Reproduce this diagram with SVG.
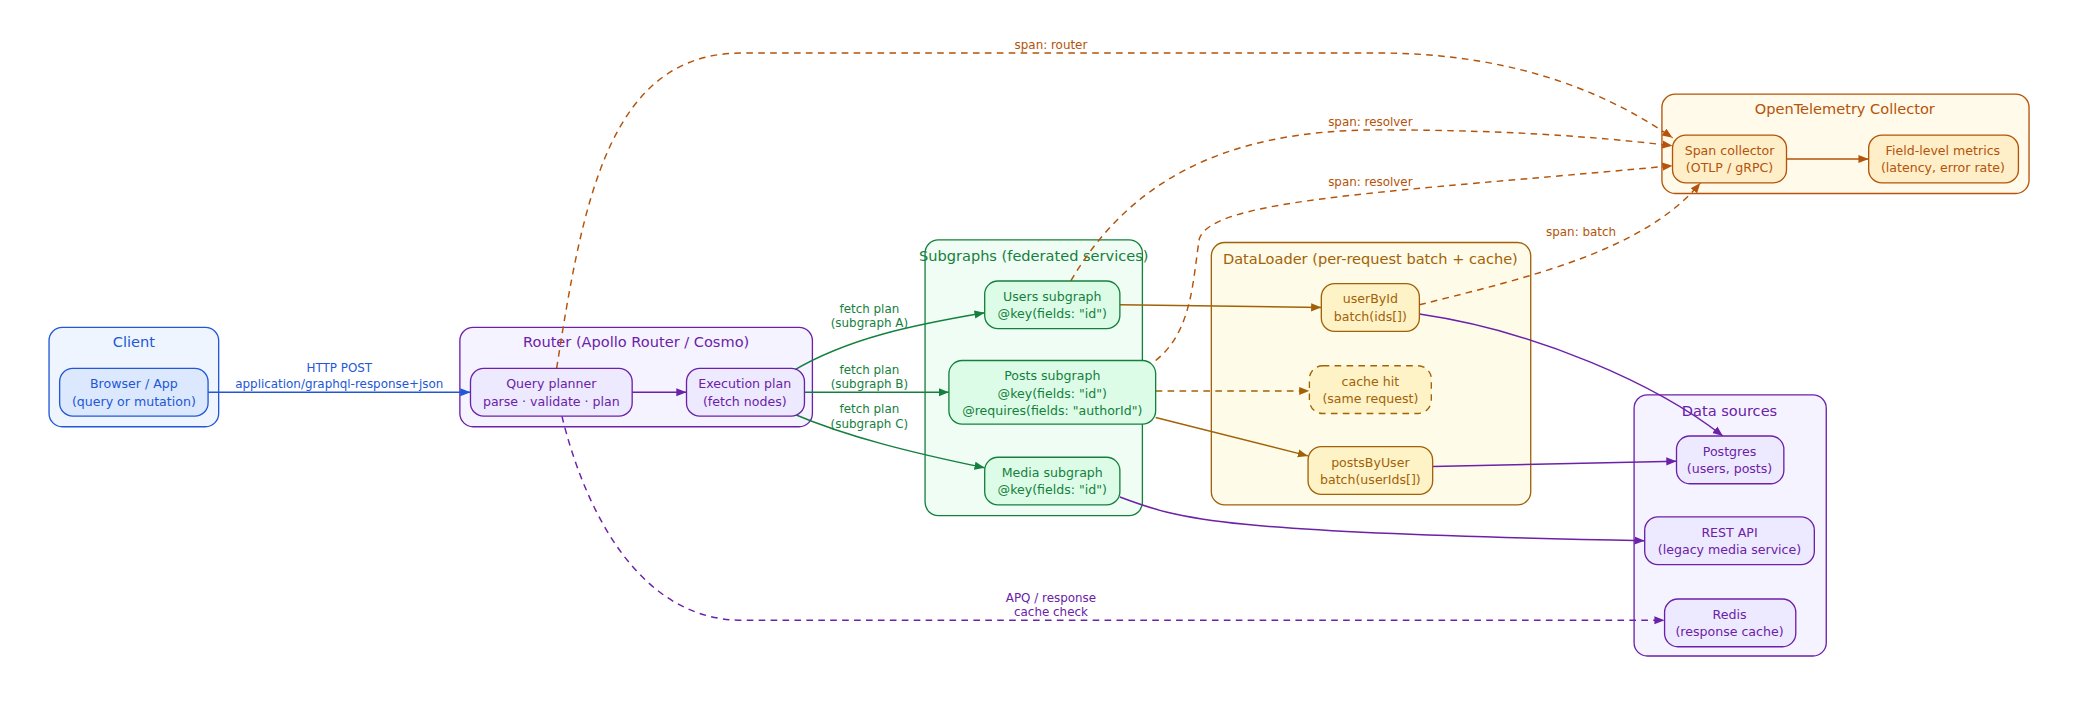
<svg xmlns="http://www.w3.org/2000/svg" width="2078" height="706" viewBox="0 0 2078 706">
<defs>
<style>
text{font-family:"DejaVu Sans","Noto Sans",sans-serif;text-anchor:middle}
.t{font-size:11px}.n{font-size:9.5px}.l{font-size:9px}
.cb{fill:#eef5ff;stroke:#2257d6}.nb{fill:#dbe8fe;stroke:#2257d6}.tb{fill:#2257d6}
.cp{fill:#f5f3ff;stroke:#6b21a8}.np{fill:#ede9fe;stroke:#6b21a8}.tp{fill:#6b21a8}
.cg{fill:#effdf4;stroke:#15803d}.ng{fill:#dcfce7;stroke:#15803d}.tg{fill:#15803d}
.ca{fill:#fffbe9;stroke:#a16207}.na{fill:#fef3c7;stroke:#a16207}.ta{fill:#a16207}
.co{fill:#fffae9;stroke:#b45309}.no{fill:#feefc9;stroke:#b45309}.to{fill:#b45309}
rect{stroke-width:1}
.e{fill:none;stroke-width:1.1}
.d{stroke-dasharray:5 4}
</style>
<marker id="mb" viewBox="0 0 10 10" refX="10" refY="5" markerWidth="7" markerHeight="7" orient="auto"><path d="M0,1L10,5L0,9z" fill="#2257d6"/></marker>
<marker id="mp" viewBox="0 0 10 10" refX="10" refY="5" markerWidth="7" markerHeight="7" orient="auto"><path d="M0,1L10,5L0,9z" fill="#6b21a8"/></marker>
<marker id="mg" viewBox="0 0 10 10" refX="10" refY="5" markerWidth="7" markerHeight="7" orient="auto"><path d="M0,1L10,5L0,9z" fill="#15803d"/></marker>
<marker id="ma" viewBox="0 0 10 10" refX="10" refY="5" markerWidth="7" markerHeight="7" orient="auto"><path d="M0,1L10,5L0,9z" fill="#a16207"/></marker>
<marker id="mo" viewBox="0 0 10 10" refX="10" refY="5" markerWidth="7" markerHeight="7" orient="auto"><path d="M0,1L10,5L0,9z" fill="#b45309"/></marker>
</defs>
<rect width="2078" height="706" fill="#fff"/>
<g transform="scale(1.3253)">
<g id="clusters">
<g id="client"><rect class="cb" x="37" y="247" width="128" height="75" rx="10"/><text class="t tb" x="101" y="262">Client</text></g>
<g id="router"><rect class="cp" x="347" y="247" width="266" height="75" rx="10"/><text class="t tp" x="480" y="262">Router (Apollo Router / Cosmo)</text></g>
<g id="subgraphs"><rect class="cg" x="698" y="181" width="164" height="208" rx="10"/><text class="t tg" x="780" y="197">Subgraphs (federated services)</text></g>
<g id="dataloader"><rect class="ca" x="914" y="183" width="241" height="198" rx="10"/><text class="t ta" x="1034" y="199">DataLoader (per-request batch + cache)</text></g>
<g id="otel"><rect class="co" x="1254" y="71" width="277" height="75" rx="10"/><text class="t to" x="1392" y="86">OpenTelemetry Collector</text></g>
<g id="datasources"><rect class="cp" x="1233" y="298" width="145" height="197" rx="10"/><text class="t tp" x="1305" y="314">Data sources</text></g>
</g>
<g id="connectors">
<path class="e" stroke="#2257d6" marker-end="url(#mb)" d="M157,296H355"/>
<text class="l tb" x="256" y="281">HTTP POST</text><text class="l tb" x="256" y="293">application/graphql-response+json</text>
<path class="e" stroke="#6b21a8" marker-end="url(#mp)" d="M477,296H518"/>
<path class="e" stroke="#15803d" marker-end="url(#mg)" d="M598,280C640,255 690,245 743,236"/>
<text class="l tg" x="656" y="236">fetch plan</text><text class="l tg" x="656" y="247">(subgraph A)</text>
<path class="e" stroke="#15803d" marker-end="url(#mg)" d="M607,296H716"/>
<text class="l tg" x="656" y="282">fetch plan</text><text class="l tg" x="656" y="293">(subgraph B)</text>
<path class="e" stroke="#15803d" marker-end="url(#mg)" d="M598,312C640,330 690,342 743,353"/>
<text class="l tg" x="656" y="312">fetch plan</text><text class="l tg" x="656" y="323">(subgraph C)</text>
<path class="e" stroke="#a16207" marker-end="url(#ma)" d="M845,230L997,232"/>
<path class="e d" stroke="#a16207" marker-end="url(#ma)" d="M872,295H988"/>
<path class="e" stroke="#a16207" marker-end="url(#ma)" d="M872,315L987,344"/>
<path class="e" stroke="#6b21a8" marker-end="url(#mp)" d="M1071,237C1160,250 1250,290 1300,329"/>
<path class="e" stroke="#6b21a8" marker-end="url(#mp)" d="M1081,352L1265,348"/>
<path class="e" stroke="#6b21a8" marker-end="url(#mp)" d="M845,375C890,392 920,402 1241,408"/>
<path class="e d" stroke="#6b21a8" marker-end="url(#mp)" d="M424,314C440,380 480,468 560,468H1256"/>
<text class="l tp" x="793" y="454">APQ / response</text><text class="l tp" x="793" y="465">cache check</text>
<path class="e d" stroke="#b45309" marker-end="url(#mo)" d="M420,278C440,150 460,40 560,40H1040C1150,40 1220,75 1262,104"/>
<text class="l to" x="793" y="37">span: router</text>
<path class="e d" stroke="#b45309" marker-end="url(#mo)" d="M808,212C850,140 920,98 1040,98C1150,98 1220,105 1262,110"/>
<text class="l to" x="1034" y="95">span: resolver</text>
<path class="e d" stroke="#b45309" marker-end="url(#mo)" d="M872,272C900,250 900,210 905,180C915,150 1050,145 1262,125"/>
<text class="l to" x="1034" y="140">span: resolver</text>
<path class="e d" stroke="#b45309" marker-end="url(#mo)" d="M1071,230C1150,210 1240,190 1283,138"/>
<text class="l to" x="1193" y="178">span: batch</text>
<path class="e" stroke="#b45309" marker-end="url(#mo)" d="M1348,120H1410"/>
</g>
<g id="browser"><rect class="nb" x="45" y="278" width="112" height="36" rx="10"/><text class="n tb" x="101" y="293">Browser / App</text><text class="n tb" x="101" y="306">(query or mutation)</text></g>
<g id="planner"><rect class="np" x="355" y="278" width="122" height="36" rx="10"/><text class="n tp" x="416" y="293">Query planner</text><text class="n tp" x="416" y="306">parse · validate · plan</text></g>
<g id="exec"><rect class="np" x="518" y="278" width="89" height="36" rx="10"/><text class="n tp" x="562" y="293">Execution plan</text><text class="n tp" x="562" y="306">(fetch nodes)</text></g>
<g id="users"><rect class="ng" x="743" y="212" width="102" height="36" rx="10"/><text class="n tg" x="794" y="227">Users subgraph</text><text class="n tg" x="794" y="240">@key(fields: "id")</text></g>
<g id="posts"><rect class="ng" x="716" y="272" width="156" height="48" rx="10"/><text class="n tg" x="794" y="287">Posts subgraph</text><text class="n tg" x="794" y="300">@key(fields: "id")</text><text class="n tg" x="794" y="313">@requires(fields: "authorId")</text></g>
<g id="media"><rect class="ng" x="743" y="345" width="102" height="36" rx="10"/><text class="n tg" x="794" y="360">Media subgraph</text><text class="n tg" x="794" y="373">@key(fields: "id")</text></g>
<g id="userById"><rect class="na" x="997" y="214" width="74" height="36" rx="10"/><text class="n ta" x="1034" y="229">userById</text><text class="n ta" x="1034" y="242">batch(ids[])</text></g>
<g id="cachehit"><rect class="na d" x="988" y="276" width="92" height="36" rx="10"/><text class="n ta" x="1034" y="291">cache hit</text><text class="n ta" x="1034" y="304">(same request)</text></g>
<g id="postsByUser"><rect class="na" x="987" y="337" width="94" height="36" rx="10"/><text class="n ta" x="1034" y="352">postsByUser</text><text class="n ta" x="1034" y="365">batch(userIds[])</text></g>
<g id="span"><rect class="no" x="1262" y="102" width="86" height="36" rx="10"/><text class="n to" x="1305" y="117">Span collector</text><text class="n to" x="1305" y="130">(OTLP / gRPC)</text></g>
<g id="metrics"><rect class="no" x="1410" y="102" width="113" height="36" rx="10"/><text class="n to" x="1466" y="117">Field-level metrics</text><text class="n to" x="1466" y="130">(latency, error rate)</text></g>
<g id="postgres"><rect class="np" x="1265" y="329" width="81" height="36" rx="10"/><text class="n tp" x="1305" y="344">Postgres</text><text class="n tp" x="1305" y="357">(users, posts)</text></g>
<g id="rest"><rect class="np" x="1241" y="390" width="128" height="36" rx="10"/><text class="n tp" x="1305" y="405">REST API</text><text class="n tp" x="1305" y="418">(legacy media service)</text></g>
<g id="redis"><rect class="np" x="1256" y="452" width="99" height="36" rx="10"/><text class="n tp" x="1305" y="467">Redis</text><text class="n tp" x="1305" y="480">(response cache)</text></g>
</g>
</svg>
